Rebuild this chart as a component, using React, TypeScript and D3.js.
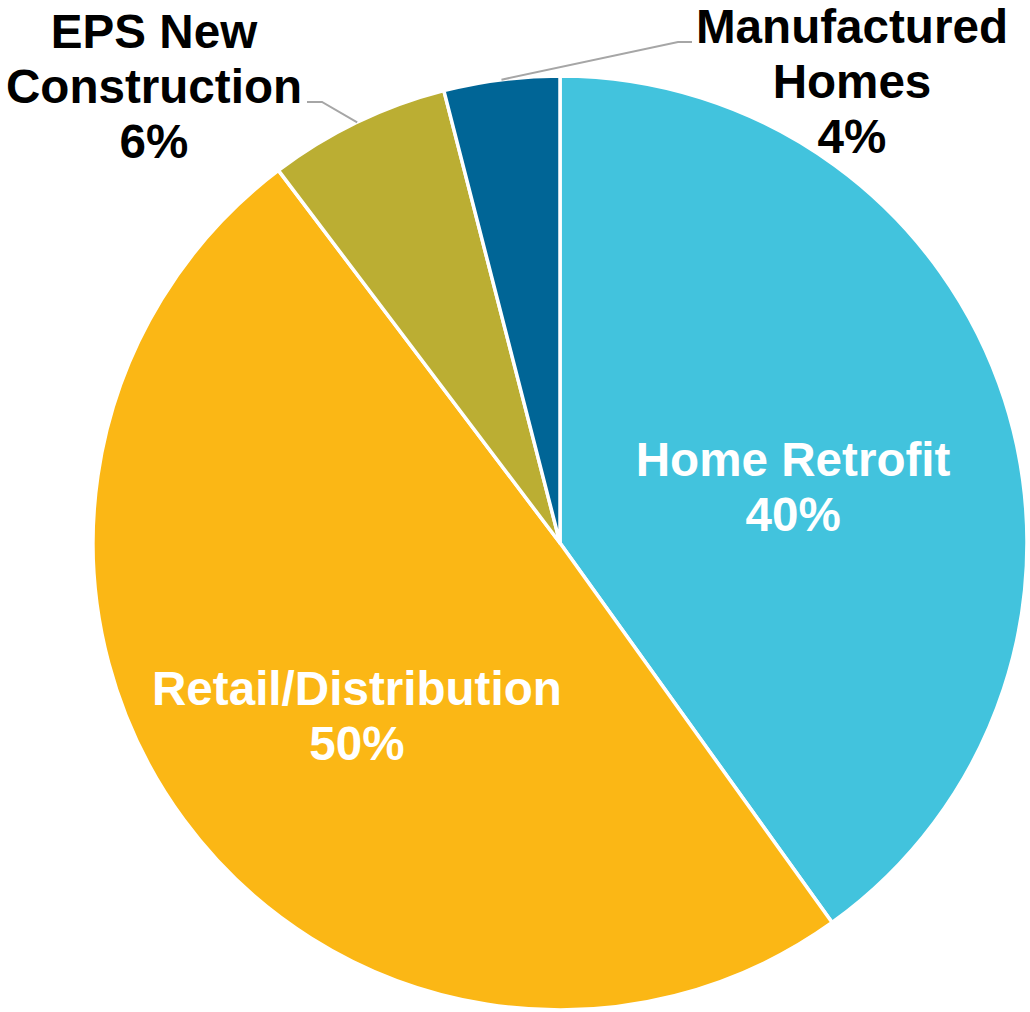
import React from "react";
import * as d3 from "d3";

const categories = ["Home Retrofit", "Retail/Distribution", "EPS New Construction", "Manufactured Homes"];
const values = [40.1, 49.6, 6.3, 4.0];
const colors = ["#42C3DD", "#FBB715", "#BBAE33", "#006596"];
const labelLines = [["Home Retrofit"], ["Retail/Distribution"], ["EPS New", "Construction"], ["Manufactured", "Homes"]];

const W = 1030;
const H = 1012;
const CX = 560;
const CY = 543;
const R = 467;
const FONT = "'Liberation Sans', Arial, sans-serif";
const FS = 47.6;
const LH = 55;

// layout for labels: inside labels use centroid (+ small nudge); outside labels use leader lines
const outside = [false, false, true, true];
const insideNudge: Record<number, [number, number]> = { 0: [-7, 0], 1: [0, 2] };
const outsideLayout: Record<number, { elbow: [number, number]; end: [number, number]; tx: number; ty: number }> = {
  2: { elbow: [322, 102], end: [307, 102], tx: 154, ty: 48 },
  3: { elbow: [678, 42], end: [692, 42], tx: 852, ty: 43 },
};

export default function App() {
  const pie = d3.pie<number>().sort(null).value((d) => d);
  const arcs = pie(values);
  const arc = d3.arc<d3.PieArcDatum<number>>().innerRadius(0).outerRadius(R);
  const labelArc = d3.arc<d3.PieArcDatum<number>>().innerRadius(R * 0.54).outerRadius(R * 0.54);
  const edgeArc = d3.arc<d3.PieArcDatum<number>>().innerRadius(R).outerRadius(R);

  return (
    <svg width={W} height={H} style={{ position: "absolute", left: 0, top: 0, display: "block" }}>
      <rect width={W} height={H} fill="#ffffff" />
      <g transform={`translate(${CX},${CY})`}>
        {arcs.map((a, i) => (
          <path key={i} d={arc(a) || ""} fill={colors[i]} stroke="#ffffff" strokeWidth={3.5} strokeLinejoin="round" />
        ))}
      </g>
      {arcs.map((a, i) => {
        const pct = `${Math.round(a.value)}%`;
        if (!outside[i]) {
          const [x0, y0] = labelArc.centroid(a);
          const n = insideNudge[i] || [0, 0];
          const x = CX + x0 + n[0];
          const y = CY + y0 + 10 + n[1];
          const lines = [...labelLines[i], pct];
          return (
            <text key={i} x={x} y={y} fill="#ffffff" fontFamily={FONT} fontWeight="bold" fontSize={FS} textAnchor="middle">
              {lines.map((l, k) => (
                <tspan key={k} x={x} dy={k === 0 ? 0 : LH}>{l}</tspan>
              ))}
            </text>
          );
        }
        const [ex, ey] = edgeArc.centroid(a);
        const L = outsideLayout[i];
        const lines = [...labelLines[i], pct];
        return (
          <g key={i}>
            <polyline
              points={`${CX + ex},${CY + ey} ${L.elbow[0]},${L.elbow[1]} ${L.end[0]},${L.end[1]}`}
              fill="none"
              stroke="#A6A6A6"
              strokeWidth={2}
            />
            <text x={L.tx} y={L.ty} fill="#000000" fontFamily={FONT} fontWeight="bold" fontSize={FS} textAnchor="middle">
              {lines.map((l, k) => (
                <tspan key={k} x={L.tx} dy={k === 0 ? 0 : LH}>{l}</tspan>
              ))}
            </text>
          </g>
        );
      })}
    </svg>
  );
}
